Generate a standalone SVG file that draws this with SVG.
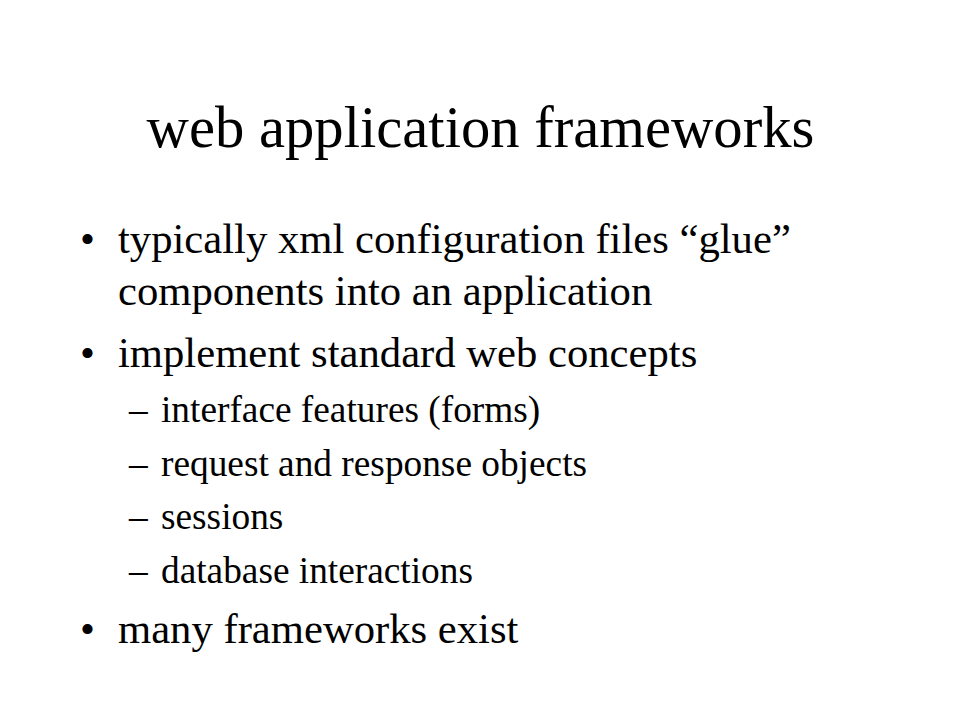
<svg xmlns="http://www.w3.org/2000/svg" width="960" height="720" viewBox="0 0 960 720">
<style>
text{font-family:"Liberation Serif","Times New Roman",serif;fill:#000}
.title{font-size:58.67px}
.l1{font-size:42.67px}
.l2{font-size:37.33px}
</style>
<rect width="960" height="720" fill="#fff"/>
<g id="title"><text class="title" x="480.5" y="147" text-anchor="middle">web application frameworks</text></g>
<g id="bullet1">
<text class="l1" x="80" y="253">•</text>
<text class="l1" x="118" y="253">typically xml configuration files “glue”</text>
<text class="l1" x="118" y="305">components into an application</text>
</g>
<g id="bullet2">
<text class="l1" x="80" y="367">•</text>
<text class="l1" x="118" y="367">implement standard web concepts</text>
</g>
<g id="sub1"><text class="l2" x="129" y="422">–</text><text class="l2" x="161" y="422">interface features (forms)</text></g>
<g id="sub2"><text class="l2" x="129" y="476">–</text><text class="l2" x="161" y="476">request and response objects</text></g>
<g id="sub3"><text class="l2" x="129" y="529">–</text><text class="l2" x="161" y="529">sessions</text></g>
<g id="sub4"><text class="l2" x="129" y="583">–</text><text class="l2" x="161" y="583">database interactions</text></g>
<g id="bullet3">
<text class="l1" x="80" y="643">•</text>
<text class="l1" x="118" y="643">many frameworks exist</text>
</g>
</svg>
